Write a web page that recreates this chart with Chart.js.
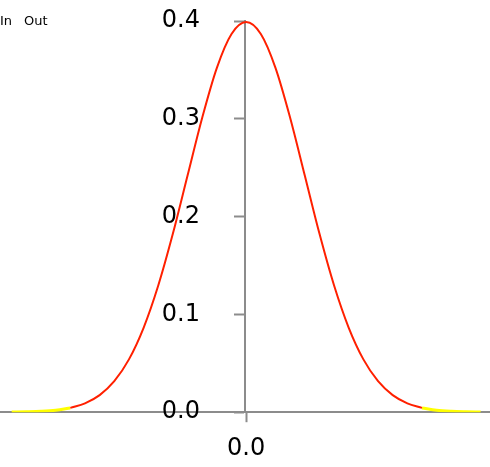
<!DOCTYPE html>
<html>
<head>
<meta charset="utf-8">
<script src="https://cdn.jsdelivr.net/npm/chart.js@4/dist/chart.umd.min.js"></script>
<style>
  html, body { margin: 0; padding: 0; background: #fff; }
  #wrap { width: 490px; height: 467px; position: relative; }
</style>
</head>
<body>
<div id="wrap"><canvas id="chart"></canvas></div>
<script>
// values (density curve, both halves)
var xVals  = [-4, -3.75, -3.5, -3.25, -3, -2.75, -2.5, -2.25, -2, -1.75, -1.5, -1.25, -1, -0.75, -0.5, -0.25,
              0, 0.25, 0.5, 0.75, 1, 1.25, 1.5, 1.75, 2, 2.25, 2.5, 2.75, 3, 3.25, 3.5, 3.75, 4];
var yVals  = [0.0001, 0.0004, 0.0009, 0.0020, 0.0044, 0.0091, 0.0175, 0.0317, 0.0540, 0.0863, 0.1295, 0.1826, 0.2420, 0.3011, 0.3521, 0.3867,
              0.3989, 0.3867, 0.3521, 0.3011, 0.2420, 0.1826, 0.1295, 0.0863, 0.0540, 0.0317, 0.0175, 0.0091, 0.0044, 0.0020, 0.0009, 0.0004, 0.0001];
var cutOff = 3;               // |x| beyond this is "Out"
var seriesNames = ['In', 'Out'];
var yTicks = [0, 0.1, 0.2, 0.3, 0.4];
var xTicks = [0];

var inData = [];
var outData = [];
for (var i = 0; i < xVals.length; i++) {
    var p = {x: xVals[i], y: yVals[i]};
    if (Math.abs(xVals[i]) <= cutOff) inData.push(p);
    if (Math.abs(xVals[i]) >= cutOff) outData.push(p);
    // break the out line between the two tails
    if (xVals[i] === -cutOff) outData.push({x: 0, y: null});
}

var axisGray = '#8c8c8c';
var font = 'DejaVu Sans';

// small text legend in the top left corner
var textLegend = {
    id: 'textLegend',
    afterDraw: function (chart) {
        var ctx = chart.ctx;
        ctx.save();
        ctx.font = '13px "' + font + '"';
        ctx.fillStyle = '#000';
        ctx.textBaseline = 'middle';
        ctx.fillText(seriesNames[0], 0, 22);
        ctx.fillText(seriesNames[1], 24, 22);
        ctx.restore();
    }
};

new Chart(document.getElementById('chart'), {
    type: 'line',
    data: {
        datasets: [{
            label: seriesNames[0],
            data: inData,
            borderColor: '#ff2000',
            borderWidth: 2,
            pointRadius: 0,
            cubicInterpolationMode: 'monotone'
        }, {
            label: seriesNames[1],
            data: outData,
            borderColor: '#ffff00',
            borderWidth: 3,
            pointRadius: 0,
            spanGaps: false,
            cubicInterpolationMode: 'monotone'
        }]
    },
    options: {
        responsive: true,
        maintainAspectRatio: false,
        animation: false,
        layout: { padding: { top: 21, bottom: -8, left: 0, right: 0 } },
        plugins: { legend: { display: false }, tooltip: { enabled: false } },
        scales: {
            x: {
                type: 'linear',
                min: -4.2,
                max: 4.16,
                position: 'bottom',
                afterBuildTicks: function (scale) {
                    scale.ticks = xTicks.map(function (v) { return {value: v}; });
                },
                ticks: {
                    padding: 12,
                    color: '#000',
                    font: { family: font, size: 24 },
                    callback: function (v) { return v.toFixed(1); }
                },
                grid: { drawOnChartArea: false, tickLength: 10, tickColor: axisGray, tickWidth: 2 },
                border: { color: axisGray, width: 2 }
            },
            y: {
                type: 'linear',
                min: 0,
                max: 0.4,
                position: 'center',
                afterBuildTicks: function (scale) {
                    scale.ticks = yTicks.map(function (v) { return {value: v}; });
                },
                // labels sit far from the axis; don't let that padding push the plot down
                afterFit: function (scale) {
                    scale.paddingTop = 0;
                    scale.paddingBottom = 0;
                },
                ticks: {
                    padding: 35,
                    color: '#000',
                    font: { family: font, size: 24 },
                    callback: function (v) { return v.toFixed(1); }
                },
                grid: { drawOnChartArea: false, tickLength: 10, tickColor: axisGray, tickWidth: 2 },
                border: { color: axisGray, width: 2 }
            }
        }
    },
    plugins: [textLegend]
});
</script>
</body>
</html>
